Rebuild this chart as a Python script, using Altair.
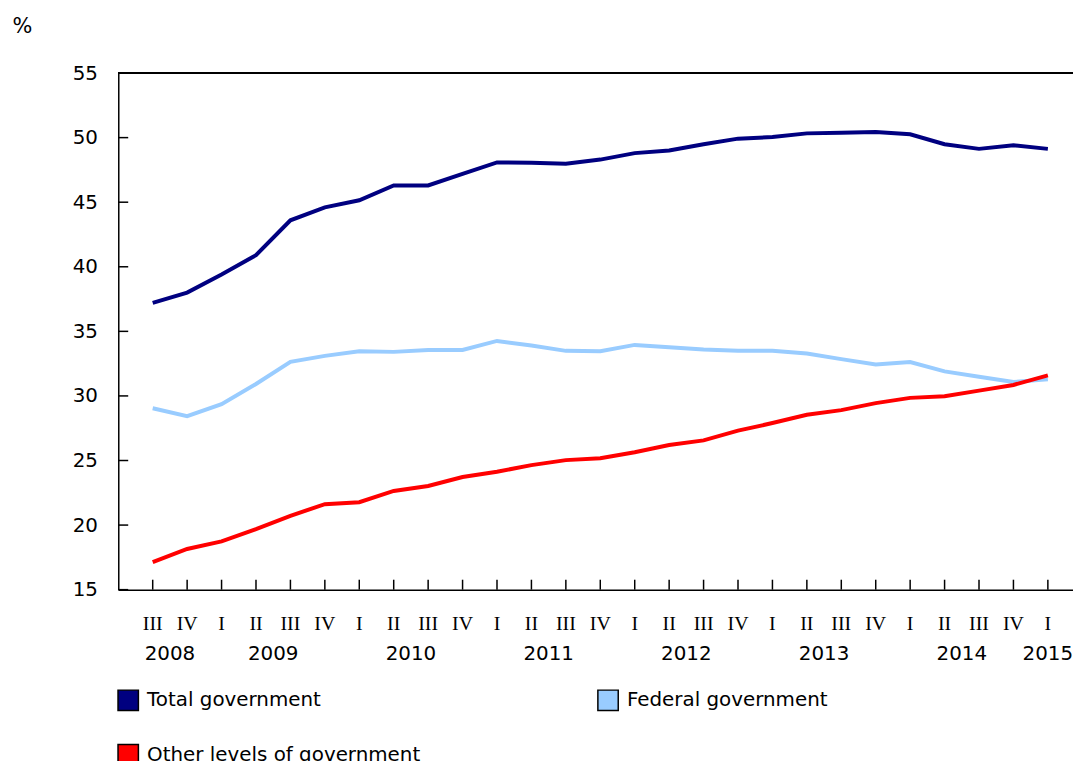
import altair as alt
import pandas as pd

quarters = ["III", "IV", "I", "II", "III", "IV", "I", "II", "III", "IV", "I", "II", "III", "IV",
            "I", "II", "III", "IV", "I", "II", "III", "IV", "I", "II", "III", "IV", "I"]
years = [2008, 2008, 2009, 2009, 2009, 2009, 2010, 2010, 2010, 2010, 2011, 2011, 2011, 2011,
         2012, 2012, 2012, 2012, 2013, 2013, 2013, 2013, 2014, 2014, 2014, 2014, 2015]

total_gov = [37.2, 38.0, 39.4, 40.9, 43.6, 44.6, 45.15, 46.3, 46.3, 47.2, 48.08, 48.05, 47.97, 48.3,
             48.8, 49.0, 49.49, 49.92, 50.05, 50.33, 50.38, 50.44, 50.26, 49.49, 49.13, 49.41, 49.13]
federal_gov = [29.05, 28.44, 29.36, 30.92, 32.64, 33.1, 33.46, 33.41, 33.56, 33.56, 34.26, 33.9, 33.49, 33.46,
               33.95, 33.77, 33.59, 33.49, 33.49, 33.28, 32.85, 32.44, 32.62, 31.9, 31.49, 31.08, 31.28]
other_gov = [17.13, 18.15, 18.74, 19.69, 20.72, 21.62, 21.77, 22.64, 23.03, 23.72, 24.13, 24.64, 25.03, 25.18,
             25.64, 26.2, 26.56, 27.31, 27.9, 28.54, 28.9, 29.44, 29.85, 29.97, 30.41, 30.85, 31.59]

series_names = ["Total government", "Federal government", "Other levels of government"]
series_colors = ["#000080", "#99ccff", "#ff0000"]
outline_colors = ["#000000", "#000000", "#000000"]
y_ticks = [15, 20, 25, 30, 35, 40, 45, 50, 55]

rows = []
for name, vals in zip(series_names, [total_gov, federal_gov, other_gov]):
    for i, v in enumerate(vals):
        rows.append({"idx": i, "value": v, "series": name})
df = pd.DataFrame(rows)

idx_df = pd.DataFrame({"idx": list(range(len(quarters))), "year": years, "q": quarters})
year_df = idx_df.groupby("year", as_index=False)["idx"].mean().rename(columns={"idx": "center"})
year_df["label"] = year_df["year"].astype(str)
ytick_df = pd.DataFrame({"v": y_ticks})

W, H = 961, 520
FONT = "DejaVu Sans"
FS = 20

x_scale = alt.Scale(domain=[-1, 26.73], nice=False, zero=False)
y_scale = alt.Scale(domain=[15, 55], nice=False, zero=False)
color_scale = alt.Scale(domain=series_names, range=series_colors)


def make_legend():
    return alt.Legend(title=None, orient="none", legendX=-1, legendY=620,
                      direction="horizontal", columns=2, columnPadding=174,
                      rowPadding=27, symbolType="square", symbolSize=420,
                      symbolStrokeWidth=1.5, symbolOpacity=1, labelFont=FONT,
                      labelFontSize=FS, labelColor="black", labelOffset=8, padding=0,
                      labelLimit=0)


lines = alt.Chart(df).mark_line(strokeWidth=4).encode(
    x=alt.X("idx:Q", scale=x_scale, axis=alt.Axis(
        values=list(range(len(quarters))), labels=False, tickSize=0, ticks=False,
        domainColor="black", domainWidth=1.5, grid=False, title=None)),
    y=alt.Y("value:Q", scale=y_scale, axis=alt.Axis(
        values=y_ticks, labelFont=FONT, labelFontSize=FS, labelColor="black", labelPadding=21,
        tickSize=0, ticks=False, domainColor="black", domainWidth=1.5, grid=False,
        title="%", titleAngle=0, titleX=-107, titleY=-41, titleAlign="left",
        titleBaseline="alphabetic", titleFont=FONT, titleFontSize=21, titleFontWeight="normal",
        titleColor="black")),
    color=alt.Color("series:N", scale=color_scale, legend=None),
)

legend_layer = alt.Chart(df).mark_square(opacity=0, strokeWidth=1.5).encode(
    x=alt.X("idx:Q", scale=x_scale),
    y=alt.Y("value:Q", scale=y_scale),
    fill=alt.Fill("series:N", scale=color_scale, legend=make_legend()),
    stroke=alt.Stroke("series:N", scale=alt.Scale(domain=series_names, range=outline_colors),
                      legend=make_legend()),
)

top_rule = alt.Chart(ytick_df).mark_rule(color="black", strokeWidth=1.5).encode(
    y=alt.datum(55, scale=y_scale)
)

y_tick_marks = alt.Chart(ytick_df).mark_rule(color="black", strokeWidth=1.5).encode(
    y=alt.Y("v:Q", scale=y_scale), x=alt.value(0), x2=alt.value(10)
)

x_tick_marks = alt.Chart(idx_df).mark_rule(color="black", strokeWidth=1.5).encode(
    x=alt.X("idx:Q", scale=x_scale), y=alt.value(H - 10), y2=alt.value(H)
)

quarter_labels = alt.Chart(idx_df).mark_text(
    font="Liberation Serif", fontSize=FS, color="black", baseline="alphabetic", align="center"
).encode(
    x=alt.X("idx:Q", scale=x_scale), y=alt.value(H + 41), text="q:N"
)

year_labels = alt.Chart(year_df).mark_text(
    font=FONT, fontSize=FS, color="black", baseline="alphabetic", align="center"
).encode(
    x=alt.X("center:Q", scale=x_scale), y=alt.value(H + 71), text="label:N"
)

chart = alt.layer(legend_layer, lines, top_rule, y_tick_marks, x_tick_marks,
                  quarter_labels, year_labels).properties(
    width=W, height=H,
    autosize=alt.AutoSizeParams(type="none"),
    padding={"left": 111, "top": 63, "right": 0, "bottom": 170},
).configure_view(stroke=None)

chart.save("out.html", embed_options={"renderer": "svg", "actions": False})
